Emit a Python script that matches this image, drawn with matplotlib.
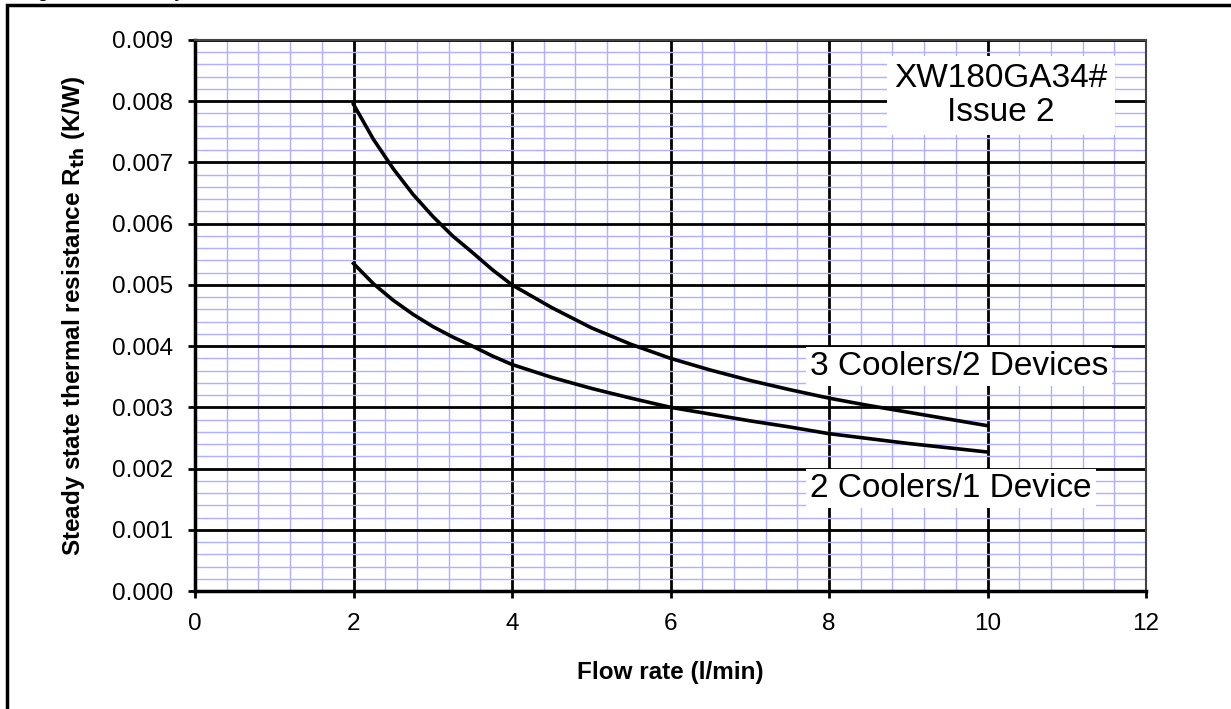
import matplotlib
matplotlib.use("Agg")
import matplotlib.pyplot as plt
from matplotlib.ticker import MultipleLocator, FormatStrFormatter
from matplotlib.patches import Rectangle

plt.rcParams['font.family'] = ['Liberation Sans', 'DejaVu Sans']

flow = [2.0, 2.25, 2.5, 2.75, 3.0, 3.25, 3.5, 3.75, 4.0, 4.5, 5.0, 5.5, 6.0,
        6.5, 7.0, 7.5, 8.0, 8.5, 9.0, 9.5, 10.0]
r_3c2d = [0.00795, 0.00738, 0.00690, 0.00648, 0.00612, 0.00580, 0.00553, 0.00525,
          0.00500, 0.00463, 0.00430, 0.00403, 0.00380, 0.00361, 0.00344, 0.00329,
          0.00315, 0.00303, 0.00292, 0.00281, 0.00270]
r_2c1d = [0.00535, 0.00502, 0.00475, 0.00452, 0.00432, 0.00415, 0.00400, 0.00384,
          0.00370, 0.00349, 0.00331, 0.00315, 0.00300, 0.00289, 0.00278, 0.00268,
          0.00257, 0.00249, 0.00241, 0.00234, 0.00227]
label_3c2d = "3 Coolers/2 Devices"
label_2c1d = "2 Coolers/1 Device"
note = "XW180GA34#\nIssue 2"

fig = plt.figure(figsize=(12.31, 7.09), dpi=100)
ax = fig.add_axes([195/1231, 1-591/709, (1146-195)/1231, (591-40)/709])

ax.set_xlim(0, 12)
ax.set_ylim(0, 0.009)
ax.xaxis.set_major_locator(MultipleLocator(2))
ax.xaxis.set_minor_locator(MultipleLocator(0.4))
ax.yaxis.set_major_locator(MultipleLocator(0.001))
ax.yaxis.set_minor_locator(MultipleLocator(0.0002))
ax.yaxis.set_major_formatter(FormatStrFormatter('%.3f'))

ax.grid(which='minor', color='#b0b0ff', linewidth=1.0)
ax.grid(which='major', color='black', linewidth=2.0)
ax.set_axisbelow(True)

ax.tick_params(which='major', direction='out', length=5, width=2, labelsize=17.5)
ax.tick_params(which='minor', length=0)
ax.tick_params(axis='x', pad=11)
ax.tick_params(axis='y', pad=11)

for s in ['left', 'bottom']:
    ax.spines[s].set_linewidth(2.5)
    ax.spines[s].set_color('black')
for s in ['top', 'right']:
    ax.spines[s].set_linewidth(1.5)
    ax.spines[s].set_color('#444444')

ax.plot(flow, r_3c2d, color='black', linewidth=2.6, zorder=3, solid_joinstyle='round')
ax.plot(flow, r_2c1d, color='black', linewidth=2.6, zorder=3, solid_joinstyle='round')

ax.text(10.17, 0.00810, note, ha='center', va='center', fontsize=24, linespacing=1.12,
        bbox=dict(facecolor='white', edgecolor='none', pad=5), zorder=5)
ax.text(9.64, 0.00366, label_3c2d, ha='center', va='center', fontsize=24,
        bbox=dict(facecolor='white', edgecolor='none', pad=3), zorder=5)
ax.text(9.54, 0.00168, label_2c1d, ha='center', va='center', fontsize=24,
        bbox=dict(facecolor='white', edgecolor='none', pad=3), zorder=5)

xl = ax.set_xlabel("Flow rate (l/min)", fontsize=17.5, fontweight='bold')
xl.set_va('center')
ax.xaxis.set_label_coords(0.5, (591-672)/551)
yl = ax.set_ylabel(r"Steady state thermal resistance R$_{\mathbf{th}}$ (K/W)", fontsize=17.5,
                   fontweight='bold')
yl.set_va('center')
ax.yaxis.set_label_coords((74-195)/951, 0.5)

# outer frame
fig.patches.append(Rectangle((7/1231, -0.05), 1.2, 1 - 5/709 + 0.05, transform=fig.transFigure,
                             fill=False, edgecolor='black', linewidth=2.5, zorder=0))
fig.text(20/1231, 1 + 3/709, "Figure 6 \u2013 Steady state thermal resistance vs flow rate",
         fontsize=15, va='baseline', ha='left')

fig.savefig("out.png", dpi=100)
